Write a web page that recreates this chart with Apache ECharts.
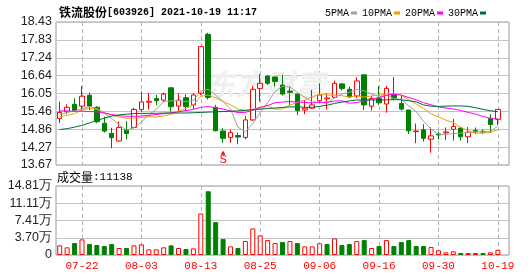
<!DOCTYPE html>
<html><head><meta charset="utf-8">
<script src="https://cdn.jsdelivr.net/npm/echarts@6/dist/echarts.min.js"></script>
<style>html,body{margin:0;padding:0;background:#fff}#c{width:530px;height:276px}</style>
</head><body><div id="c"></div><script>
const dates = ['07-19','07-20','07-21','07-22','07-23','07-26','07-27','07-28','07-29','07-30','08-02','08-03','08-04','08-05','08-06','08-09','08-10','08-11','08-12','08-13','08-16','08-17','08-18','08-19','08-20','08-23','08-24','08-25','08-26','08-27','08-30','08-31','09-01','09-02','09-03','09-06','09-07','09-08','09-09','09-10','09-13','09-14','09-15','09-16','09-17','09-22','09-23','09-24','09-27','09-28','09-29','09-30','10-08','10-11','10-12','10-13','10-14','10-15','10-18','10-19'];
const opens = [15.22,15.44,15.69,15.63,15.99,15.59,15.06,14.72,14.47,14.84,14.92,15.52,15.76,15.88,15.83,16.24,15.63,15.91,15.67,16.06,18.02,15.59,14.80,14.59,14.65,14.59,15.17,16.22,16.63,16.60,16.33,16.13,16.03,15.50,15.56,15.81,15.87,15.92,16.37,16.19,15.97,16.67,15.63,15.89,15.70,16.02,15.72,15.50,14.78,14.84,14.53,14.70,14.74,14.86,14.90,14.61,14.82,14.79,15.22,15.19];
const closes = [15.42,15.59,15.48,15.96,15.63,15.11,14.80,14.58,14.92,14.72,15.52,15.77,15.79,15.81,16.03,15.61,15.83,15.61,16.00,17.61,15.92,14.81,14.56,14.75,14.60,15.17,16.19,16.39,16.39,16.45,16.03,16.09,15.48,15.56,15.67,16.00,15.90,16.39,16.22,15.94,16.47,15.67,15.89,15.74,16.22,15.89,15.53,14.81,14.80,14.56,14.64,14.67,14.77,14.95,14.61,14.76,14.78,14.77,15.02,15.52];
const lows = [15.06,15.36,15.44,15.48,15.50,15.06,14.75,14.23,14.45,14.52,14.89,15.44,15.52,15.66,15.76,15.45,15.47,15.47,15.53,16.00,15.85,14.79,14.41,14.41,14.36,14.52,15.14,15.78,16.33,16.28,15.98,15.67,15.33,15.36,15.55,15.72,15.52,15.89,16.15,15.90,15.90,15.50,15.48,15.67,15.41,15.82,15.48,14.70,14.40,14.45,14.08,14.52,14.50,14.48,14.48,14.40,14.70,14.70,14.74,15.00];
const highs = [15.78,15.69,15.89,16.30,16.08,15.63,15.28,14.91,15.11,15.13,15.57,16.11,16.07,16.00,16.08,16.25,16.06,16.02,16.06,17.63,18.07,15.67,14.89,14.84,14.75,15.30,16.30,16.70,16.67,16.62,16.67,16.28,16.05,15.83,16.17,16.39,16.06,16.48,16.40,16.28,16.59,16.67,15.97,16.30,16.30,16.60,15.97,15.50,15.05,15.03,14.92,14.78,14.92,15.20,14.93,14.93,14.92,14.85,15.36,15.52];
// volume in 万 (10k lots)
const volumes = [2.07,1.64,2.56,3.35,2.35,2.14,1.92,2.35,1.50,1.50,2.07,2.28,1.21,1.21,1.64,2.07,1.50,1.28,1.42,8.90,13.68,7.05,3.42,1.85,1.50,2.99,5.70,4.20,3.20,2.56,2.78,2.99,2.56,1.85,1.85,2.49,2.35,3.56,2.14,2.35,2.99,3.20,1.50,1.92,3.20,1.92,2.78,3.20,1.92,1.92,1.71,1.00,0.57,0.78,0.43,0.43,0.43,0.43,0.57,1.11];
// leading MA values (window starts before the visible range)
const ma5Lead = [15.35,15.42,15.47,15.54];
const ma10Lead = [15.28,15.32,15.38,15.50,15.56,15.52,15.42,15.33,15.27];
const ma20Lead = [15.47,15.47,15.46,15.46,15.45,15.44,15.40,15.35,15.31,15.29,15.29,15.30,15.32,15.35,15.38,15.41,15.44,15.48,15.52];
const ma30Lead = [14.85,14.88,14.93,14.99,15.07,15.15,15.23,15.30,15.34,15.36,15.38,15.39,15.39,15.39,15.40,15.40,15.40,15.40,15.41,15.42,15.43,15.44,15.45,15.46,15.47,15.49,15.51,15.53,15.55];
const labelDates = ['07-22','08-03','08-13','08-25','09-06','09-16','09-30','10-19'];
const priceTicks = ['13.67','14.27','14.86','15.46','16.05','16.64','17.24','17.83','18.43'];
const volTicks = ['0','3.70万','7.41万','11.11万','14.81万'];
const signalIdx = 22, signalPrice = 14.08;
const titleName = '铁流股份', titleInfo = '[603926] 2021-10-19 11:17';

const priceMin = 13.67, priceStep = 0.595;
const volMax = 14.81, volStep = 3.7025;

function ma(n, lead) {
  return closes.map((c, i) => {
    if (i < n - 1) return lead[i];
    let s = 0; for (let k = i - n + 1; k <= i; k++) s += closes[k];
    return +(s / n).toFixed(3);
  });
}
const cats = dates.concat(['']);
const candle = dates.map((d, i) => [opens[i], closes[i], lows[i], highs[i]]);
const volData = volumes.map((v, i) => {
  const up = i === 0 ? closes[i] >= opens[i] : closes[i] >= closes[i - 1];
  return { value: v, itemStyle: up ? { color: '#ffffff', borderColor: '#ff0000', borderWidth: 1 } : { color: '#008000', borderColor: '#008000', borderWidth: 1 } };
});
const isLabel = (idx, val) => labelDates.indexOf(val) >= 0;
const axisFont = 'Liberation Sans';
const vSplit = { show: true, alignWithLabel: true, interval: isLabel, lineStyle: { type: [4, 3], color: '#b4b4b4', width: 1 } };

const chart = echarts.init(document.getElementById('c'), null, { renderer: 'canvas' });
const lineS = (name, data, color) => ({
  name, type: 'line', data, xAxisIndex: 0, yAxisIndex: 0, symbol: 'none', smooth: false,
  lineStyle: { width: 1, color }, itemStyle: { color }, z: 3, silent: true
});
chart.setOption({
  animation: false,
  backgroundColor: '#ffffff',
  title: {
    text: '{a|' + titleName + '}{b|' + titleInfo + '}', left: 54, top: 1,
    textStyle: { rich: {
      a: { fontFamily: 'Noto Sans CJK SC', fontSize: 12, color: '#000' },
      b: { fontFamily: 'Liberation Mono', fontSize: 10, color: '#000' }
    } }
  },
  legend: {
    left: 320, top: 3, align: 'right', icon: 'rect', itemWidth: 6, itemHeight: 3, itemGap: 5,
    textStyle: { fontFamily: 'Liberation Mono', fontSize: 10, color: '#000', padding: [0, -3, 0, 0] },
    data: ['5PMA', '10PMA', '20PMA', '30PMA']
  },
  graphic: [
    { type: 'text', left: 57, top: 171, style: { text: '{a|成交量}{b|:11138}', rich: {
      a: { fontFamily: 'Noto Sans CJK SC', fontSize: 12, fill: '#000' },
      b: { fontFamily: 'Liberation Mono', fontSize: 11, fill: '#000' } } } },
    { type: 'text', left: 205, top: 70, z: 1, style: { text: '东方财富', font: 'italic bold 30px "Noto Sans CJK SC"', fill: '#efefef' } }
  ],
  grid: [
    { left: 56, top: 22, width: 453, height: 143, show: true, borderColor: '#999', borderWidth: 1 },
    { left: 56, top: 186, width: 453, height: 69, show: true, borderColor: '#999', borderWidth: 1 }
  ],
  xAxis: [
    { type: 'category', gridIndex: 0, data: cats, boundaryGap: true,
      axisLine: { show: false }, axisTick: { show: false, alignWithLabel: true, interval: isLabel }, axisLabel: { show: false, interval: isLabel },
      splitLine: vSplit },
    { type: 'category', gridIndex: 1, data: cats, boundaryGap: true,
      axisLine: { show: false }, axisTick: { show: false, alignWithLabel: true, interval: isLabel },
      axisLabel: { show: true, interval: isLabel, color: '#ff0000', fontFamily: 'Liberation Mono', fontSize: 11, margin: 6 },
      splitLine: vSplit }
  ],
  yAxis: [
    { type: 'value', gridIndex: 0, min: priceMin, max: 18.43, interval: priceStep, scale: true,
      axisLine: { show: false }, axisTick: { show: false },
      axisLabel: { color: '#222', fontFamily: axisFont, fontSize: 12.5, margin: 4,
        formatter: v => priceTicks[Math.round((v - priceMin) / priceStep)] },
      splitLine: { show: true, lineStyle: { color: '#c4c4c4', width: 1 } } },
    { type: 'value', gridIndex: 1, min: 0, max: volMax, interval: volStep,
      axisLine: { show: false }, axisTick: { show: false },
      axisLabel: { color: '#222', fontFamily: axisFont, fontSize: 12.5, margin: 4,
        formatter: v => volTicks[Math.round(v / volStep)] },
      splitLine: { show: true, lineStyle: { color: '#c4c4c4', width: 1 } } }
  ],
  series: [
    { name: 'K', type: 'candlestick', xAxisIndex: 0, yAxisIndex: 0, data: candle, barWidth: 5, z: 2, silent: true,
      itemStyle: { color: '#ffffff', color0: '#008000', borderColor: '#ff0000', borderColor0: '#008000', borderColorDoji: '#ff0000', borderWidth: 1 },
      markPoint: { silent: true, symbol: 'triangle', symbolSize: [5, 4],
        itemStyle: { color: '#ff0000' },
        label: { show: true, position: 'bottom', distance: 0, formatter: 'S', color: '#ff0000', fontFamily: 'Liberation Sans', fontSize: 11 },
        data: [{ coord: [dates[signalIdx], signalPrice] }] } },
    lineS('5PMA', ma(5, ma5Lead), '#a0a0a0'),
    lineS('10PMA', ma(10, ma10Lead), '#f5a000'),
    lineS('20PMA', ma(20, ma20Lead), '#ff00ff'),
    lineS('30PMA', ma(30, ma30Lead), '#006a35'),
    { name: 'VOL', type: 'bar', xAxisIndex: 1, yAxisIndex: 1, data: volData, barWidth: 5, silent: true, z: 2 }
  ]
});
</script></body></html>
